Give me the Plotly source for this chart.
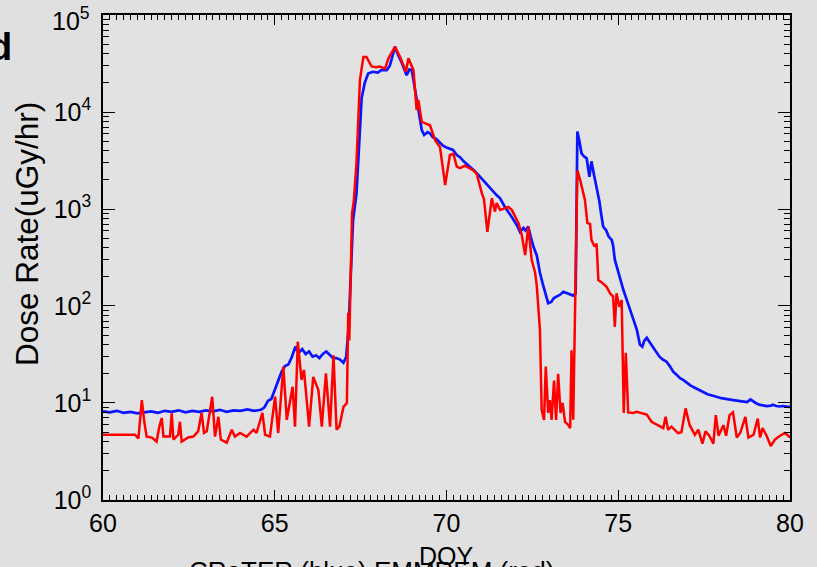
import plotly.graph_objects as go

# ---- data ----
blue_doy = [60.0, 60.2, 60.4, 60.6, 60.8, 61.0, 61.2, 61.4, 61.6, 61.8, 62.0, 62.2, 62.4, 62.6, 62.8,
            63.0, 63.2, 63.4, 63.6, 63.8, 64.0, 64.2, 64.4, 64.6, 64.7, 64.8, 64.9, 65.0, 65.1, 65.2,
            65.3, 65.4, 65.5, 65.6, 65.7, 65.8, 65.9, 66.0, 66.1, 66.2, 66.3, 66.4, 66.5, 66.6, 66.7,
            66.8, 66.9, 67.0, 67.08, 67.15, 67.2, 67.28, 67.38, 67.45, 67.53, 67.62, 67.72, 67.85,
            68.0, 68.1, 68.26, 68.35, 68.45, 68.5, 68.6, 68.7, 68.84, 68.92, 68.99, 69.05, 69.13,
            69.2, 69.28, 69.35, 69.45, 69.52, 69.6, 69.7, 69.81, 69.9, 70.0, 70.1, 70.19, 70.3,
            70.4, 70.5, 70.6, 70.68, 70.8, 70.9, 71.0, 71.12, 71.3, 71.45, 71.56, 71.7, 71.85,
            71.95, 72.05, 72.14, 72.24, 72.3, 72.38, 72.45, 72.53, 72.63, 72.72, 72.8, 72.88,
            72.96, 73.05, 73.12, 73.2, 73.3, 73.4, 73.5, 73.6, 73.69, 73.76, 73.81, 73.87, 73.93,
            74.0, 74.08, 74.16, 74.22, 74.3, 74.37, 74.45, 74.5, 74.56, 74.65, 74.72, 74.81, 74.85,
            74.9, 75.0, 75.08, 75.15, 75.25, 75.34, 75.44, 75.54, 75.63, 75.7, 75.76, 75.83, 75.9,
            76.0, 76.1, 76.2, 76.3, 76.4, 76.5, 76.6, 76.7, 76.8, 76.89, 77.0, 77.1, 77.2, 77.3,
            77.38, 77.5, 77.6, 77.7, 77.86, 78.0, 78.1, 78.2, 78.35, 78.5, 78.6, 78.75, 78.85,
            78.93, 79.0, 79.1, 79.2, 79.32, 79.45, 79.5, 79.6, 79.7, 79.8, 79.95, 80.0]
blue_val = [8.2, 8.0, 8.3, 7.9, 8.1, 7.8, 8.0, 8.2, 7.9, 8.3, 8.1, 8.4, 8.0, 8.3, 8.1,
            8.4, 8.2, 8.5, 8.1, 8.4, 8.3, 8.6, 8.3, 8.5, 9.0, 10.5, 11, 13.5, 17, 21,
            24, 25, 30, 38, 33, 36, 32, 34, 30, 31, 29, 32, 34, 31, 29,
            29, 28, 26, 30, 60, 150, 770, 1450, 5000, 14000, 20000, 25000, 26000,
            25500, 27000, 27000, 30000, 40000, 47000, 38000, 32000, 24000, 27500, 27000, 20000, 14400,
            10000, 6500, 5800, 6200, 6000, 5500, 5300, 4800, 4500, 4300, 4200, 4060, 3600,
            3400, 3100, 2900, 2740, 2500, 2300, 2100, 1860, 1600, 1400, 1290, 1050, 880,
            770, 680, 580, 640, 600, 660, 520, 410, 330, 220, 170, 130,
            107, 110, 120, 125, 130, 140, 135, 130, 128, 135, 6300, 5000, 3750,
            3500, 3330, 2150, 3100, 2200, 1700, 1200, 900, 660, 600, 520, 480, 420,
            300, 220, 170, 146, 115, 91, 70, 57, 40, 38, 44, 47, 43,
            38, 34, 30, 28, 26.8, 24, 21, 19.5, 18, 17.3, 16, 15.2, 14.5, 14,
            13.6, 12.8, 12.3, 12.1, 11.6, 11.2, 11.0, 10.8, 10.7, 10.5, 10.4, 10.2, 10.9,
            10.3, 10.0, 9.6, 9.4, 9.3, 9.4, 9.6, 9.3, 9.2, 9.3, 9.1, 9.2]

red_doy = [60.0, 60.5, 60.93, 61.03, 61.13, 61.2, 61.27, 61.42, 61.56, 61.64, 61.71, 61.76, 61.85,
           61.95, 62.0, 62.05, 62.19, 62.24, 62.29, 62.39, 62.48, 62.63, 62.77, 62.87, 62.94, 63.02,
           63.09, 63.18, 63.26, 63.36, 63.43, 63.6, 63.75, 63.84, 63.99, 64.18, 64.38, 64.47, 64.64,
           64.72, 64.86, 65.01, 65.1, 65.25, 65.35, 65.52, 65.59, 65.67, 65.78, 65.85, 66.0, 66.12,
           66.27, 66.37, 66.49, 66.61, 66.71, 66.8, 66.88, 67.0, 67.1, 67.14, 67.17, 67.21, 67.25,
           67.3, 67.38, 67.48, 67.58, 67.67, 67.82, 67.95, 68.06, 68.21, 68.31, 68.5, 68.65, 68.82,
           68.89, 69.04, 69.13, 69.18, 69.28, 69.4, 69.52, 69.67, 69.81, 69.96, 70.1, 70.2, 70.3,
           70.39, 70.54, 70.78, 70.88, 71.03, 71.09, 71.19, 71.32, 71.41, 71.46, 71.56, 71.8, 71.9,
           72.1, 72.19, 72.29, 72.38, 72.48, 72.58, 72.63, 72.72, 72.77, 72.84, 72.89, 72.96, 73.01,
           73.06, 73.13, 73.19, 73.25, 73.32, 73.38, 73.45, 73.55, 73.6, 73.64, 73.69, 73.74, 73.81,
           73.89, 73.96, 74.03, 74.1, 74.18, 74.22, 74.31, 74.37, 74.42, 74.52, 74.6, 74.66, 74.76,
           74.85, 74.9, 74.95, 75.03, 75.1, 75.16, 75.22, 75.29, 75.43, 75.53, 75.63, 75.72, 75.83,
           75.97, 76.16, 76.31, 76.38, 76.45, 76.55, 76.74, 76.84, 76.96, 77.08, 77.23, 77.33, 77.45,
           77.54, 77.65, 77.77, 77.84, 77.92, 78.06, 78.14, 78.24, 78.34, 78.45, 78.55, 78.7, 78.79,
           78.94, 79.06, 79.13, 79.2, 79.32, 79.44, 79.56, 79.71, 79.85, 79.95, 80.0]
red_val = [4.7, 4.7, 4.7, 4.3, 10.7, 6.5, 4.5, 4.4, 4.0, 5.7, 7.0, 4.5, 4.5,
           4.5, 7.8, 4.2, 4.7, 6.4, 4.0, 4.2, 4.4, 4.5, 5.1, 7.9, 4.9, 5.1,
           7.5, 11.6, 4.5, 7.2, 4.2, 3.9, 5.3, 4.5, 4.9, 4.5, 5.3, 4.9, 7.9,
           4.7, 4.5, 11.6, 4.9, 23.7, 6.7, 14.7, 5.7, 42.8, 17.3, 21.9, 5.7, 18.6,
           13.6, 5.7, 20.2, 5.7, 31, 5.3, 5.7, 9.1, 10, 85, 44, 185, 900,
           1200, 3000, 21400, 37000, 37000, 29500, 29000, 29500, 28000, 35800, 47000, 37000, 26000,
           35800, 27000, 10500, 13300, 7900, 7600, 7300, 5100, 4370, 1770, 3600, 3700, 2740,
           2640, 2800, 2500, 2300, 1450, 1270, 580, 1290, 940, 1150, 980, 1050, 980,
           710, 540, 335, 660, 300, 220, 158, 57, 8.5, 6.7, 23.7, 7.9, 10.7,
           6.7, 17, 6.7, 20, 7.9, 10, 6.4, 5.9, 5.5, 35, 6.7, 115, 2500,
           2000, 1600, 1240, 720, 700, 480, 410, 440, 185, 175, 165, 158, 135,
           125, 61, 135, 98, 115, 7.9, 33, 8, 7.9, 8.1, 7.9, 7.8, 7.6,
           6.4, 5.9, 5.5, 7.2, 5.3, 5.7, 4.9, 5.0, 8.8, 5.9, 4.7, 5.3, 3.8,
           5.1, 4.6, 3.8, 7.5, 4.6, 5.9, 4.6, 7.5, 8.0, 4.4, 4.9, 7.2, 4.4,
           4.7, 6.9, 4.4, 5.5, 4.6, 3.6, 4.2, 4.6, 4.9, 4.6, 4.4]

x_ticks = [60, 65, 70, 75, 80]
y_tickvals = [1, 10, 100, 1000, 10000, 100000]
y_ticktext = ["10<sup>0</sup>", "10<sup>1</sup>", "10<sup>2</sup>", "10<sup>3</sup>",
              "10<sup>4</sup>", ""]
top_label = "10<sup>5</sup>"

FONT = "Liberation Sans, Arial, sans-serif"
BG = "#e0e0e0"

fig = go.Figure()
fig.add_trace(go.Scatter(x=blue_doy, y=blue_val, mode="lines",
                         line=dict(color="#0a14ff", width=2.7), showlegend=False))
fig.add_trace(go.Scatter(x=red_doy, y=red_val, mode="lines",
                         line=dict(color="#ff0000", width=2.5), showlegend=False))

fig.update_layout(
    width=817, height=567,
    margin=dict(l=103, r=27, t=15, b=67),
    paper_bgcolor=BG,
    plot_bgcolor="#e2e2e2",
    font=dict(family=FONT, size=25, color="black"),
    showlegend=False,
)
fig.update_xaxes(
    range=[60, 80], tickvals=x_ticks, ticktext=[str(v) for v in x_ticks],
    ticks="inside", ticklen=10, tickwidth=1.2, tickcolor="black",
    showline=True, linecolor="black", linewidth=1.5, mirror="ticks",
    showgrid=False, zeroline=False, ticklabelstandoff=0, automargin=False,
    ticklabeloverflow="allow",
    minor=dict(ticks="inside", ticklen=5, tickwidth=1, tickcolor="black", dtick=0.2, showgrid=False),
    tickfont=dict(size=25),
)
fig.update_yaxes(
    type="log", range=[-0.0005, 5.0005], tickvals=y_tickvals, ticktext=y_ticktext,
    ticks="inside", ticklen=12, tickwidth=1.2, tickcolor="black",
    showline=True, linecolor="black", linewidth=1.5, mirror="ticks",
    showgrid=False, zeroline=False, ticklabelstandoff=5, automargin=False,
    ticklabeloverflow="allow",
    minor=dict(ticks="inside", ticklen=6, tickwidth=1, tickcolor="black", dtick="D1", showgrid=False),
    tickfont=dict(size=25),
)

annos = [
    dict(text="<b>d</b>", x=(1 - 103) / 687, y=(500 - 47) / 485, xref="paper", yref="paper",
         showarrow=False, font=dict(size=38, family=FONT, color="black"), xanchor="center", yanchor="middle"),
    dict(text="Dose Rate(uGy/hr)", x=(27 - 103) / 687, y=(500 - 234) / 485, xref="paper", yref="paper",
         showarrow=False, textangle=-90, font=dict(size=31.5, family=FONT, color="black"),
         xanchor="center", yanchor="middle"),
    dict(text=top_label, x=(92 - 103) / 687, y=(500 - 19) / 485, xref="paper", yref="paper",
         showarrow=False, font=dict(size=25, family=FONT, color="black"), xanchor="right", yanchor="middle"),
    dict(text="DOY", x=(446 - 103) / 687, y=-56 / 485, xref="paper", yref="paper",
         showarrow=False, font=dict(size=25, family=FONT, color="black"), xanchor="center", yanchor="middle"),
    dict(text="CRaTER (blue) EMMREM (red)", x=(372 - 103) / 687, y=-71 / 485, xref="paper", yref="paper",
         showarrow=False, font=dict(size=26, family=FONT, color="black"), xanchor="center", yanchor="middle"),
]
fig.update_layout(annotations=annos)

fig.write_html(
    "out.html",
    config={"displayModeBar": False},
    post_script="document.body.style.margin='0';document.body.style.padding='0';"
                "document.body.style.background='" + BG + "';"
                "document.body.style.overflow='hidden';",
)
